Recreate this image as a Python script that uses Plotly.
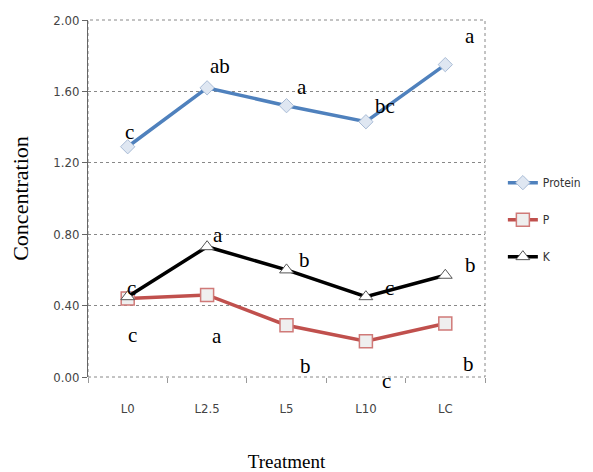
import plotly.graph_objects as go

treatments = ["L0", "L2.5", "L5", "L10", "LC"]
protein = [1.29, 1.62, 1.52, 1.43, 1.75]
p_vals = [0.44, 0.46, 0.29, 0.20, 0.30]
k_vals = [0.45, 0.73, 0.60, 0.45, 0.57]
y_ticks = [0.0, 0.4, 0.8, 1.2, 1.6, 2.0]

protein_letters = ["c", "ab", "a", "bc", "a"]
k_letters = ["c", "a", "b", "c", "b"]
p_letters = ["c", "a", "b", "c", "b"]

# label offsets in pixels (x, y-up)
protein_off = [(2, 15), (13, 22), (15, 19), (19, 16), (25, 29)]
k_off = [(4, 9), (11, 12), (18, 10), (24, 9), (25, 10)]
p_off = [(5, -37), (10, -41), (19, -41), (21, -40), (23, -41)]

fig = go.Figure()
fig.add_trace(go.Scatter(
    x=treatments, y=protein, name="Protein", mode="lines+markers", legendgroup="a",
    line=dict(color="#4f81bd", width=3.5),
    marker=dict(symbol="diamond", size=11, color="#dfe7f2", line=dict(color="#a9bcd6", width=1))))
fig.add_trace(go.Scatter(
    x=treatments, y=p_vals, name="P", mode="lines+markers", legendgroup="b",
    line=dict(color="#c0504d", width=3.5),
    marker=dict(symbol="square", size=13, color="#efefef", line=dict(color="#d07a78", width=1.5))))
fig.add_trace(go.Scatter(
    x=treatments, y=k_vals, name="K", mode="lines+markers", legendgroup="c",
    line=dict(color="#000000", width=3.5),
    marker=dict(symbol="triangle-up", size=12, color="#ffffff", line=dict(color="#555555", width=1))))

annots = []
for vals, letters, offs in [(protein, protein_letters, protein_off),
                            (k_vals, k_letters, k_off),
                            (p_vals, p_letters, p_off)]:
    for t, v, l, (dx, dy) in zip(treatments, vals, letters, offs):
        annots.append(dict(x=t, y=v, text=l, showarrow=False, xshift=dx, yshift=dy,
                           font=dict(family="Liberation Serif", size=21, color="#000000")))

fig.update_layout(
    width=585, height=464,
    margin=dict(l=80, r=108, t=12, b=95, autoexpand=False),
    plot_bgcolor="white", paper_bgcolor="white",
    annotations=annots,
    showlegend=True,
    legend=dict(x=1.045, y=0.585, xanchor="left", yanchor="top", tracegroupgap=18,
                font=dict(family="DejaVu Sans Condensed", size=12, color="#333333"),
                bgcolor="rgba(0,0,0,0)", itemwidth=30),
    xaxis=dict(
        title=dict(text="Treatment", font=dict(family="Liberation Serif", size=19, color="#000000"),
                   standoff=40),
        automargin=False,
        tickfont=dict(family="DejaVu Sans Condensed", size=13, color="#444444"),
        ticklabelstandoff=22,
        showgrid=False, zeroline=False, showline=False,
        ticks="outside", tickson="boundaries", ticklen=5, tickcolor="#999999",
        range=[-0.5, 4.5],
    ),
    yaxis=dict(
        title=dict(text="Concentration", font=dict(family="Liberation Serif", size=22, color="#000000"),
                   standoff=19),
        automargin=False,
        tickfont=dict(family="DejaVu Sans Condensed", size=13, color="#444444"),
        range=[0, 2.0], tickvals=y_ticks, tickformat=".2f",
        showgrid=True, gridcolor="#888888", griddash="dot", gridwidth=1,
        zeroline=False, showline=True, linecolor="#666666", linewidth=1,
        ticks="outside", ticklen=5, tickcolor="#666666",
    ),
)
fig.add_shape(type="rect", xref="paper", yref="paper", x0=0, x1=1, y0=0, y1=1,
              line=dict(color="#888888", width=1, dash="dot"), layer="below")

fig.write_html("out.html")
